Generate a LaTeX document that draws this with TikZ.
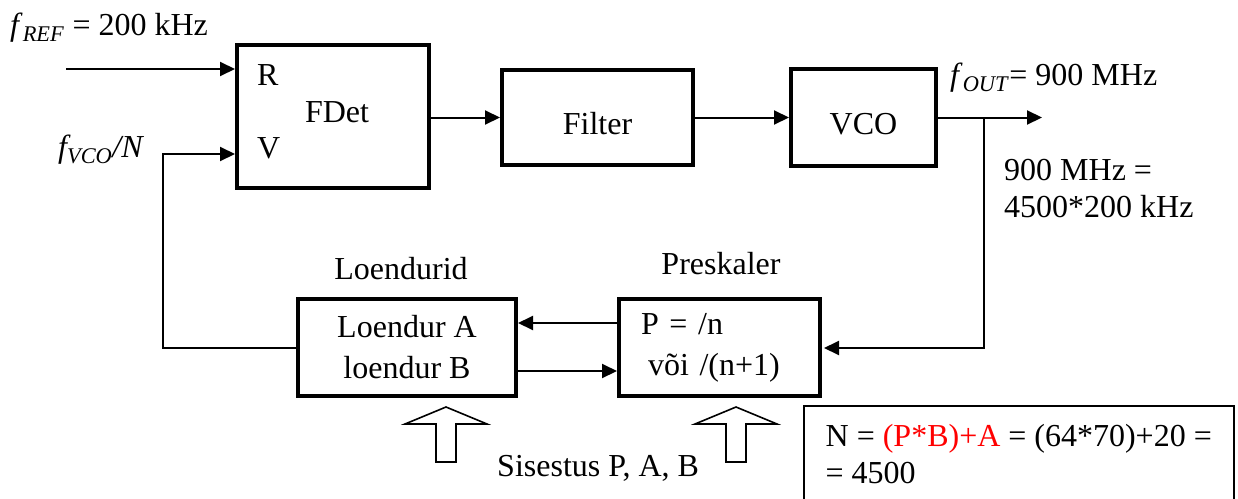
\documentclass[tikz,border=0pt]{standalone}
\usepackage{fontspec}
\setmainfont{Liberation Serif}
\usetikzlibrary{arrows.meta}

\begin{document}
\begin{tikzpicture}[x=1pt,y=-1pt,font=\fontsize{32}{37}\selectfont,
    blk/.style={draw,rectangle,line width=4pt,inner sep=0pt},
    oneline/.style={text height=34pt,text depth=0pt},
    twoline/.style={font=\fontsize{32}{41}\selectfont},
    wire/.style={line width=2pt},
    tip/.style={-{Triangle[length=15pt,width=14pt]}},
    hollow/.style={line width=1.6pt}]

  \useasboundingbox (0,0) rectangle (1238,498);

  % blocks
  \begin{scope}[every node/.style={blk}]
    \node[minimum width=192,minimum height=143,text height=22pt,text depth=10pt] (fdet) at (333,116.5) {\hspace*{8pt}FDet};
    \node[oneline,minimum width=191,minimum height=95] (filter) at (597.5,117.5) {Filter};
    \node[oneline,minimum width=145,minimum height=97] (vco) at (863.5,117.5) {VCO};
    \node[twoline,minimum width=218,minimum height=97,align=center] (loend) at (407,347.5) {Loendur A\\loendur B};
    \node[twoline,minimum width=201,minimum height=97,text width=157pt,align=left] (presk) at (719.5,347.5) {P = /n\\\hspace*{7pt}või /(n+1)};
  \end{scope}

  % labels
  \begin{scope}[every node/.style={inner sep=0pt}]
    \node[anchor=base west] (rlab) at (257,85) {R};
    \node[anchor=base west] (vlab) at (257,158) {V};
    \node[anchor=base west] (freflab) at (10,35) {\textit{f}\textsubscript{\textit{REF}} = 200 kHz};
    \node[anchor=base west] (fvcolab) at (58,157) {\textit{f\textsubscript{VCO}/N}};
    \node[anchor=base west] (foutlab) at (950,85) {\textit{f}\textsubscript{\textit{OUT}}= 900 MHz};
    \node[anchor=north west,align=left] (ratiolab) at (1004,159) {900 MHz =\\4500*200 kHz};
    \node[anchor=base] (loendlab) at (401,279) {Loendurid};
    \node[anchor=base] (presklab) at (721,274) {Preskaler};
    \node[anchor=base west] (sislab) at (497,476) {Sisestus P, A, B};
  \end{scope}

  \node[draw,line width=1.5pt,anchor=north west,minimum width=430,align=left,
        inner xsep=0pt,inner ysep=19pt] (nform) at (803,405)
        {N = \textcolor{red}{(P*B)+A} = (64*70)+20 =\\= 4500};

  \coordinate (refin) at (66,69);
  \coordinate (outend) at (1042,117.5);
  \coordinate (br) at (984,117.5);
  \coordinate (pin) at (824,348);
  \coordinate (fbtop) at (163,154);

  % connectors
  \begin{scope}[every edge/.style={draw,wire,tip}]
    \path (refin) edge (refin -| fdet.west);
    \path (fdet.east |- filter.west) edge (filter.west);
    \path (filter) edge (vco);
    \path (vco.east) edge (outend);
    \path ([yshift=24.5pt]presk.west) edge ([yshift=24.5pt]loend.east);
    \path ([yshift=-23.5pt]loend.east) edge ([yshift=-23.5pt]presk.west);
  \end{scope}
  \draw[wire,tip] (br) |- (pin);
  \draw[wire,tip] (loend.west) -| (fbtop) -- (fbtop -| fdet.west);

  % input arrows
  \foreach \cx in {446,736}
    \draw[hollow] (\cx,407) -- ++(41,17) -- ++(-31,0) -- ++(0,38) -- ++(-20,0)
      -- ++(0,-38) -- ++(-31,0) -- cycle;

\end{tikzpicture}
\end{document}
